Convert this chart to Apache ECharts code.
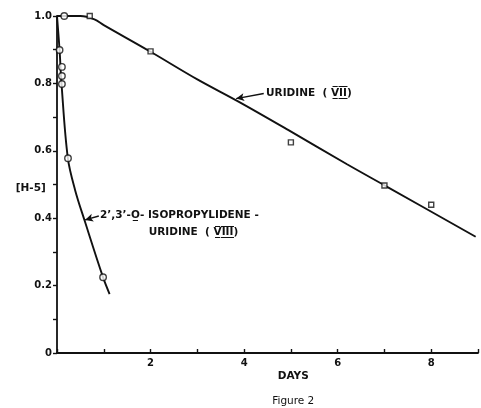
<!DOCTYPE html>
<html><head><meta charset="utf-8">
<script src="https://cdn.jsdelivr.net/npm/echarts@6/dist/echarts.min.js"></script>
<style>html,body{margin:0;padding:0;background:#fff}#c{width:481px;height:408px}</style>
</head><body><div id="c"></div>
<script>
// Uridine (VII) measured points (squares)
const uridineDays = [0.7, 2, 5, 7, 8];
const uridineVals = [1.0, 0.895, 0.625, 0.497, 0.44];
// Uridine fitted curve
const uridineCurveDays = [0, 0.5, 0.8, 1.0, 2, 3, 3.88, 4.94, 6.2, 7.02, 8.95];
const uridineCurveVals = [1.0, 1.0, 0.99, 0.973, 0.894, 0.812, 0.746, 0.662, 0.56, 0.496, 0.345];
// 2',3'-O-isopropylidene-uridine (VIII) measured points (circles)
const isoDays = [0.155, 0.055, 0.105, 0.105, 0.105, 0.235, 0.985];
const isoVals = [1.0, 0.899, 0.849, 0.822, 0.798, 0.578, 0.225];
// isopropylidene fitted curve
const isoCurveDays = [0, 0.055, 0.097, 0.232, 0.386, 0.597, 0.983, 1.124];
const isoCurveVals = [1.0, 0.899, 0.798, 0.578, 0.484, 0.39, 0.225, 0.175];
// axis ticks
const xMin = 0, xMax = 9, xStep = 1;
const xLabels = [2, 4, 6, 8];
const yMin = 0, yMax = 1, yStep = 0.1;
const yLabels = ['0', '0.2', '0.4', '0.6', '0.8', '1.0'];

const zip = (a, b) => a.map((v, i) => [v, b[i]]);
const INK = '#111';
const FONT = 'DejaVu Sans';

const chart = echarts.init(document.getElementById('c'));
chart.setOption({
  animation: false,
  backgroundColor: '#fff',
  grid: { left: 57, right: 1, top: 16, bottom: 55, containLabel: false },
  xAxis: {
    type: 'value', min: xMin, max: xMax, interval: xStep,
    axisLine: { lineStyle: { color: INK, width: 1.8 } },
    axisTick: { inside: true, length: 4, lineStyle: { color: INK, width: 1.4 } },
    splitLine: { show: false },
    axisLabel: {
      margin: 5, color: INK, fontFamily: FONT, fontSize: 10, fontWeight: 'bold',
      formatter: v => xLabels.includes(Math.round(v)) && Math.abs(v - Math.round(v)) < 1e-6 ? String(Math.round(v)) : ''
    }
  },
  yAxis: {
    type: 'value', min: yMin, max: yMax, interval: yStep,
    axisLine: { lineStyle: { color: INK, width: 1.8 } },
    axisTick: { inside: false, length: 4, lineStyle: { color: INK, width: 1.4 } },
    splitLine: { show: false },
    axisLabel: {
      margin: 5, color: INK, fontFamily: FONT, fontSize: 10, fontWeight: 'bold',
      formatter: v => {
        const k = Math.round(v * 10);
        if (k % 2 !== 0) return '';
        const s = k === 0 ? '0' : (k / 10).toFixed(1);
        return yLabels.includes(s) ? s : '';
      }
    }
  },
  series: [
    {
      type: 'line', data: zip(uridineCurveDays, uridineCurveVals), smooth: 0.35,
      showSymbol: false, lineStyle: { color: INK, width: 1.9 }, silent: true,
      markLine: {
        silent: true, symbol: ['none', 'arrow'], symbolSize: [6, 8],
        label: { show: false }, lineStyle: { color: INK, width: 1.4, type: 'solid' },
        data: [[{ coord: [4.42, 0.77] }, { coord: [3.83, 0.755] }]]
      }
    },
    {
      type: 'line', data: zip(isoCurveDays, isoCurveVals), smooth: 0.35,
      showSymbol: false, lineStyle: { color: INK, width: 1.9 }, silent: true,
      markLine: {
        silent: true, symbol: ['none', 'arrow'], symbolSize: [6, 8],
        label: { show: false }, lineStyle: { color: INK, width: 1.4, type: 'solid' },
        data: [[{ coord: [0.894, 0.4065] }, { coord: [0.6, 0.395] }]]
      }
    },
    {
      type: 'scatter', data: zip(uridineDays, uridineVals), symbol: 'rect', symbolSize: 5,
      itemStyle: { color: '#fff', borderColor: INK, borderWidth: 1.4 }, z: 5
    },
    {
      type: 'scatter', data: zip(isoDays, isoVals), symbol: 'circle', symbolSize: 6.5,
      itemStyle: { color: '#fff', borderColor: INK, borderWidth: 1.4 }, z: 5
    }
  ]
});

// annotations anchored in data space
const px = (x, y) => chart.convertToPixel({ gridIndex: 0 }, [x, y]);
const txt = (pos, text, size, align, weight) => ({
  type: 'text', x: pos[0], y: pos[1],
  style: { text, fill: INK, font: (weight || 'bold') + ' ' + size + 'px "' + FONT + '"', textAlign: align || 'left', textVerticalAlign: 'middle' }
});
chart.setOption({
  graphic: [
    txt(px(-0.24, 0.49), '[H-5]', 10.5, 'right'),
    txt(px(4.47, 0.771), 'URIDINE  ( V\u0305\u0332I\u0305\u0332I\u0305\u0332)', 10.5),
    txt(px(0.92, 0.41), "2\u2019,3\u2019-O\u0332- ISOPROPYLIDENE -", 10.5),
    txt(px(1.96, 0.357), 'URIDINE  ( V\u0305\u0332I\u0305\u0332I\u0305\u0332I\u0305\u0332)', 10.5),
    txt(px(5.05, -0.068), 'DAYS', 10.5, 'center'),
    txt(px(5.05, -0.143), 'Figure 2', 10.5, 'center', 'normal')
  ]
});
</script>
</body></html>
